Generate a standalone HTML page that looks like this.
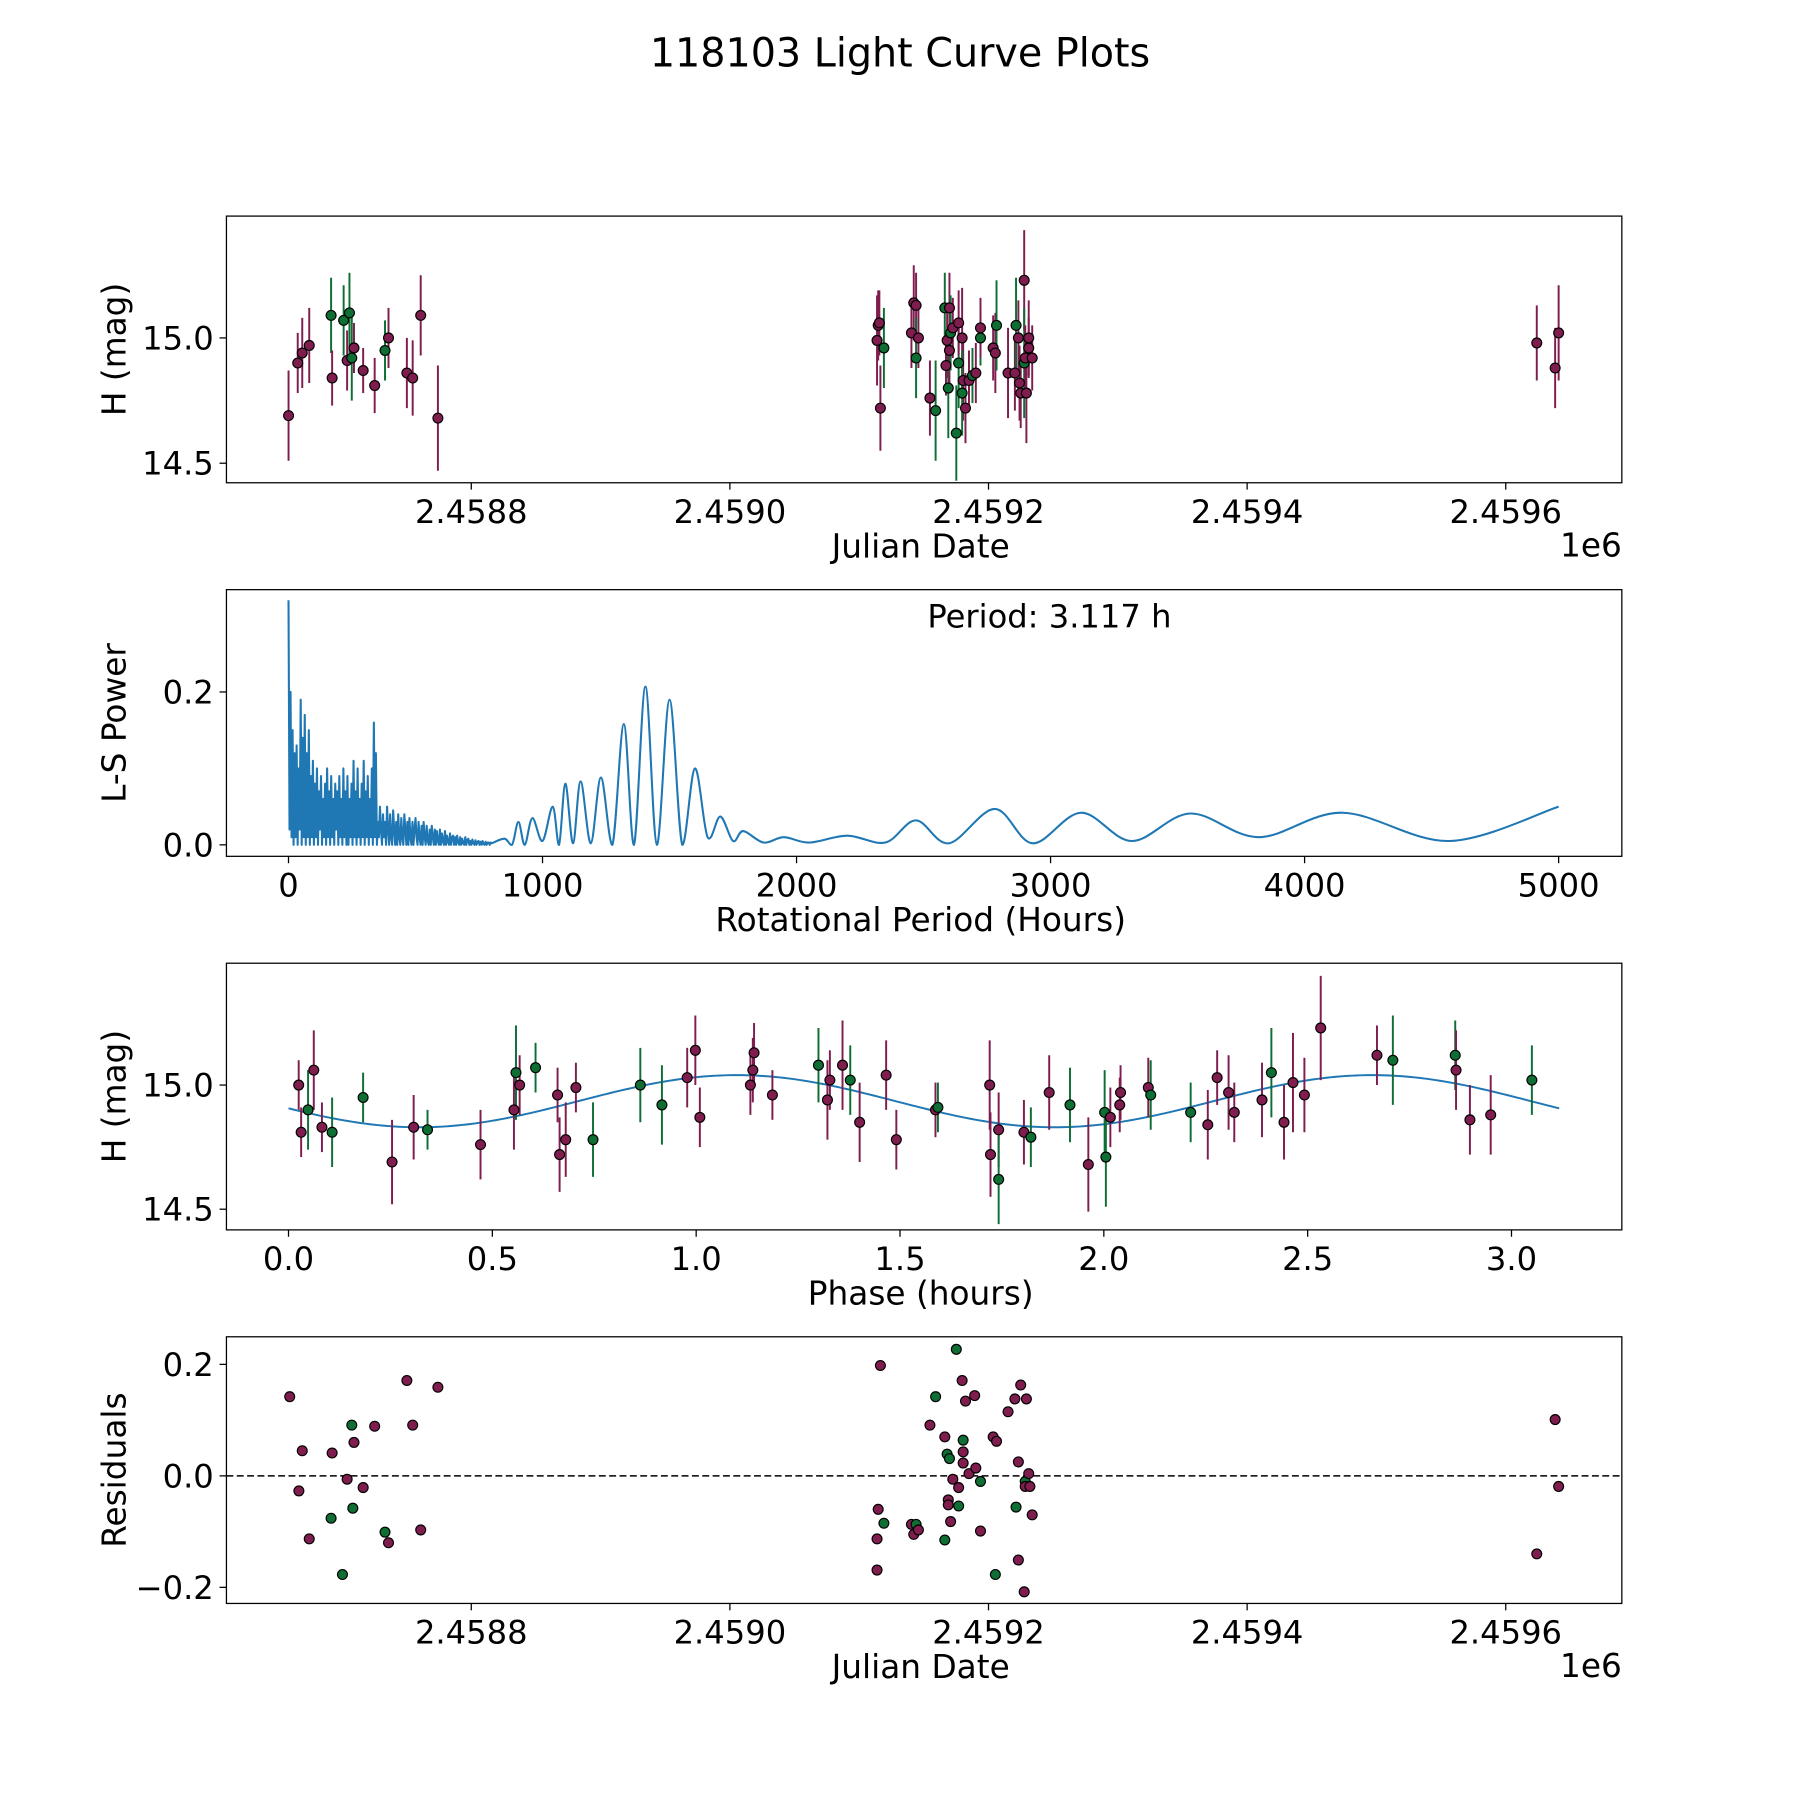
<!DOCTYPE html>
<html><head><meta charset="utf-8"><title>118103 Light Curve Plots</title>
<style>html,body{margin:0;padding:0;background:#fff}svg{display:block}text{font-family:"DejaVu Sans","Liberation Sans",sans-serif;fill:#000}</style>
</head><body>
<svg id="fig" xmlns="http://www.w3.org/2000/svg" width="1800" height="1800" viewBox="0 0 1566 1566">
<rect width="1566" height="1566" fill="#fff"/>
<text x="783" y="58" font-size="34.5" text-anchor="middle">118103 Light Curve Plots</text>
</svg>
<script>
// ---- Panel 1: light curve ----
const lcJD=[2458658.7,2458665.8,2458669.3,2458674.7,2458691.6,2458692.4,2458701.3,2458705.8,2458704.0,2458707.6,2458709.3,2458716.4,2458725.3,2458733.3,2458736.0,2458750.2,2458754.7,2458760.9,2458774.2,
2459113.8,2459114.7,2459115.6,2459116.4,2459119.1,2459140.4,2459142.2,2459144.0,2459144.0,2459145.8,2459154.7,2459159.1,2459166.2,2459167.1,2459168.0,2459168.9,2459169.8,2459169.8,2459170.7,2459172.4,2459175.1,2459176.9,2459176.9,2459179.6,2459180.4,2459179.6,2459182.2,2459184.9,2459187.6,2459190.2,2459193.8,2459193.8,2459203.6,2459205.3,2459206.2,2459215.1,2459220.4,2459221.3,2459223.1,2459224.0,2459224.9,2459227.6,2459227.6,2459228.4,2459229.3,2459231.1,2459231.1,2459233.8,
2459624.0,2459638.2,2459640.9];
const lcMag=[14.69,14.90,14.94,14.97,15.09,14.84,15.07,15.10,14.91,14.92,14.96,14.87,14.81,14.95,15.00,14.86,14.84,15.09,14.68,
14.99,15.05,15.06,14.72,14.96,15.02,15.14,15.13,14.92,15.00,14.76,14.71,15.12,14.89,14.99,14.80,15.12,14.95,15.02,15.04,14.62,14.90,15.06,15.00,14.83,14.78,14.72,14.83,14.85,14.86,15.00,15.04,14.96,14.94,15.05,14.86,14.86,15.05,15.00,14.82,14.78,15.23,14.90,14.92,14.78,15.00,14.96,14.92,
14.98,14.88,15.02];
const lcErr=[0.18,0.12,0.14,0.15,0.15,0.11,0.14,0.16,0.12,0.17,0.10,0.09,0.11,0.12,0.12,0.14,0.15,0.16,0.21,
0.18,0.14,0.13,0.17,0.16,0.14,0.15,0.13,0.16,0.12,0.15,0.2,0.14,0.12,0.15,0.2,0.14,0.16,0.15,0.12,0.19,0.18,0.13,0.2,0.16,0.17,0.14,0.12,0.11,0.12,0.11,0.12,0.13,0.16,0.18,0.18,0.15,0.19,0.15,0.15,0.14,0.2,0.22,0.13,0.2,0.15,0.12,0.13,
0.15,0.16,0.19];
const lcBand=[0,0,0,0,1,0,1,1,0,1,0,0,0,1,0,0,0,0,0,
0,0,0,0,1,0,0,0,1,0,0,1,1,0,0,1,0,0,1,0,1,1,0,0,0,1,0,0,1,0,1,0,0,0,1,0,0,1,0,0,0,0,1,0,0,0,0,0,
0,0,0];
// ---- Panel 2: periodogram ----
const lsStepHours=4;
const lsDensePower=[0.32,0.02,0.20,0.01,0.15,0.00,0.12,0.01,0.13,0.00,0.10,0.02,0.19,0.00,0.14,0.01,0.17,0.00,0.12,0.01,0.15,0.00,0.09,0.01,0.11,0.00,0.08,0.01,0.10,0.00,0.07,0.02,0.09,0.00,0.06,0.01,0.08,0.00,0.10,0.01,0.07,0.00,0.09,0.01,0.06,0.00,0.08,0.02,0.07,0.00,0.09,0.01,0.06,0.00,0.10,0.01,0.07,0.00,0.09,0.00,0.06,0.01,0.08,0.00,0.11,0.01,0.07,0.00,0.10,0.01,0.06,0.00,0.08,0.01,0.11,0.00,0.07,0.01,0.09,0.00,0.06,0.01,0.10,0.00,0.16,0.01,0.12,0.00,
0.03,0.01,0.05,0.02,0.00,0.04,0.01,0.03,0.00,0.05,0.02,0.00,0.04,0.01,0.00,0.045,0.02,0.00,0.03,0.00,0.04,0.01,0.00,0.035,0.01,0.00,0.04,0.02,0.00,0.03,0.00,0.035,0.01,0.00,0.03,0.00,0.02,0.035,0.01,0.00,0.03,0.01,0.00,0.025,0.00,0.03,0.01,0.00,0.025,0.005,0.00,0.02,0.00,0.025,0.01,0.00,0.02,0.00,0.018,0.005,0.00,0.02,0.00,0.015,0.005,0.00,0.018,0.00,0.012,0.004,0.00,0.015,0.00,0.01,0.012,0.00,0.01,0.00,0.012,0.003,0.00,0.01,0.00,0.008,0.002,0.00,0.01,0.00,0.006,0.008,0.00,0.005,0.00,0.007,0.002,0.00,0.006,0.00,0.004,0.005,0.00,0.004,0.00,0.005,0.001,0.00,0.004,0.00,0.003,0.003,0.00,0.003];
const lsSmoothPeriod=[800,850,880,905,930,960,1000,1040,1065,1090,1120,1150,1190,1230,1275,1320,1360,1405,1450,1500,1550,1600,1650,1700,1750,1790,1870,1950,2050,2200,2350,2470,2600,2780,2930,3120,3320,3550,3820,4150,4570,5000];
const lsSmoothPower=[0.002,0.008,0.0,0.03,0.0,0.035,0.005,0.05,0.0,0.08,0.002,0.083,0.002,0.088,0.0,0.158,0.0,0.207,0.0,0.19,0.0,0.1,0.01,0.037,0.005,0.018,0.003,0.01,0.003,0.012,0.003,0.032,0.002,0.047,0.002,0.042,0.005,0.041,0.01,0.042,0.005,0.05];
const periodText="Period: 3.117 h";
// ---- Panel 3: phased ----
const phPhase=[0.025,0.031,0.048,0.062,0.082,0.107,0.183,0.254,0.307,0.341,0.471,0.553,0.558,0.567,0.606,0.660,0.665,0.680,0.705,0.747,0.863,0.916,0.978,0.998,1.009,1.133,1.139,1.142,1.187,1.300,1.322,1.328,1.359,1.378,1.401,1.466,1.491,1.587,1.593,1.720,1.722,1.742,1.742,1.804,1.821,1.866,1.917,1.962,2.002,2.005,2.016,2.039,2.041,2.109,2.115,2.213,2.255,2.278,2.306,2.320,2.388,2.411,2.442,2.464,2.492,2.532,2.670,2.709,2.862,2.864,2.898,2.949,3.050];
const phMag=[15.00,14.81,14.90,15.06,14.83,14.81,14.95,14.69,14.83,14.82,14.76,14.90,15.05,15.00,15.07,14.96,14.72,14.78,14.99,14.78,15.00,14.92,15.03,15.14,14.87,15.00,15.06,15.13,14.96,15.08,14.94,15.02,15.08,15.02,14.85,15.04,14.78,14.90,14.91,15.00,14.72,14.82,14.62,14.81,14.79,14.97,14.92,14.68,14.89,14.71,14.87,14.92,14.97,14.99,14.96,14.89,14.84,15.03,14.97,14.89,14.94,15.05,14.85,15.01,14.96,15.23,15.12,15.10,15.12,15.06,14.86,14.88,15.02];
const phBand=[0,0,1,0,0,1,1,0,0,1,0,0,1,0,1,0,0,0,0,1,1,1,0,0,0,0,0,0,0,1,0,0,0,1,0,0,0,0,1,0,0,0,1,0,1,0,1,0,1,1,0,0,0,0,1,1,0,0,0,0,0,1,0,0,0,0,0,1,1,0,0,0,1];
const phErr=[0.1,0.1,0.16,0.16,0.1,0.14,0.1,0.17,0.13,0.08,0.14,0.16,0.19,0.12,0.1,0.11,0.15,0.15,0.1,0.15,0.15,0.16,0.12,0.14,0.12,0.12,0.13,0.12,0.1,0.15,0.16,0.12,0.18,0.14,0.16,0.14,0.12,0.11,0.1,0.18,0.17,0.15,0.18,0.13,0.12,0.15,0.15,0.19,0.17,0.2,0.12,0.11,0.11,0.12,0.14,0.12,0.14,0.11,0.15,0.12,0.15,0.18,0.15,0.2,0.15,0.21,0.12,0.18,0.14,0.16,0.14,0.16,0.14];
const modelMean=[14.935];
const modelAmp=[0.105];
const modelPeakPhase=[1.1];
const modelPeriodHours=[3.117];
// ---- Panel 4: residuals ----
const resJD=[2458659.6,2458666.7,2458669.3,2458674.7,2458691.6,2458692.4,2458700.4,2458704.0,2458707.6,2458708.4,2458709.3,2458716.4,2458725.3,2458733.3,2458736.0,2458750.2,2458754.7,2458760.9,2458774.2,
2459113.8,2459114.7,2459113.8,2459116.4,2459119.1,2459140.4,2459142.2,2459144.0,2459145.8,2459154.7,2459159.1,2459166.2,2459166.2,2459168.0,2459168.9,2459169.8,2459168.9,2459170.7,2459172.4,2459175.1,2459176.9,2459176.9,2459179.6,2459180.4,2459180.4,2459180.4,2459182.2,2459184.9,2459189.3,2459190.2,2459193.8,2459193.8,2459203.6,2459206.2,2459205.3,2459215.1,2459220.4,2459221.3,2459223.1,2459223.1,2459224.9,2459227.6,2459228.4,2459229.3,2459228.4,2459231.1,2459232.0,2459233.8,
2459624.0,2459638.2,2459640.9];
const resVal=[0.142,-0.027,0.045,-0.113,-0.076,0.041,-0.177,-0.006,0.091,-0.058,0.060,-0.021,0.089,-0.101,-0.120,0.171,0.091,-0.097,0.159,
-0.113,-0.060,-0.169,0.198,-0.085,-0.087,-0.105,-0.087,-0.097,0.091,0.142,0.070,-0.115,0.039,-0.043,0.031,-0.052,-0.082,-0.006,0.227,-0.054,-0.021,0.171,0.064,0.043,0.023,0.134,0.004,0.144,0.014,-0.010,-0.099,0.070,0.062,-0.177,0.115,0.138,-0.056,0.025,-0.151,0.163,-0.208,-0.010,0.138,-0.019,0.004,-0.019,-0.070,
-0.140,0.101,-0.019];
const resBand=[0,0,0,0,1,0,1,0,1,1,0,0,0,1,0,0,0,0,0,
0,0,0,0,1,0,0,1,0,0,1,0,1,1,0,1,0,0,0,1,1,0,0,1,0,0,0,0,0,0,1,0,0,0,1,0,0,1,0,0,0,0,1,0,0,0,0,0,
0,0,0];
const jdTicks=[2458800,2459000,2459200,2459400,2459600];
const jdTickLabels=["2.4588","2.4590","2.4592","2.4594","2.4596"];

const NS="http://www.w3.org/2000/svg";
const svg=document.getElementById('fig');
const PURPLE="#7f1d4f",GREEN="#0e6e33";
function mk(tag,attrs,parent){const e=document.createElementNS(NS,tag);for(const k in attrs)e.setAttribute(k,attrs[k]);(parent||svg).appendChild(e);return e;}
function lin(d0,d1,r0,r1){return v=>r0+(v-d0)/(d1-d0)*(r1-r0);}
const L=197,R=1411;
const tops=[188,513,838,1163],H=232;
const TICKFS=28,LABFS=28.5;

function axesFrame(i,name){
  const g=mk('g',{});
  
  
  const r=mk('rect',{x:L,y:tops[i],width:R-L,height:H,fill:'none',stroke:'#000','stroke-width':1.1},g);
  
  
  return g;
}
function xTicks(g,sx,vals,labels,i){
  const yb=tops[i]+H;
  vals.forEach((v,k)=>{const x=sx(v);
    mk('line',{x1:x,x2:x,y1:yb,y2:yb+6,stroke:'#000','stroke-width':1.1},g);
    const t=mk('text',{x:x,y:yb+35,'font-size':TICKFS,'text-anchor':'middle'},g);t.textContent=labels[k];
    
    });
}
function yTicks(g,sy,vals,labels){
  vals.forEach((v,k)=>{const y=sy(v);
    mk('line',{x1:L-6,x2:L,y1:y,y2:y,stroke:'#000','stroke-width':1.1},g);
    const t=mk('text',{x:L-11,y:y+10,'font-size':TICKFS,'text-anchor':'end'},g);t.textContent=labels[k];
    
    });
}
function labels(g,i,xl,yl,yx){
  const t=mk('text',{x:(L+R)/2-3,y:tops[i]+H+65,'font-size':LABFS,'text-anchor':'middle'},g);t.textContent=xl;
  
  
  const cy=tops[i]+H/2;
  const u=mk('text',{x:yx,y:cy,'font-size':LABFS,'text-anchor':'middle',transform:`rotate(-90 ${yx} ${cy})`},g);u.textContent=yl;
  
  
}
function dot(g,x,y,c){const d=mk('circle',{cx:x,cy:y,r:4.3,fill:c,stroke:'#000','stroke-width':1},g);return d;}

// Panel 1
const sxJD=lin(2458800,2459600,410,1310);
{
  const g=axesFrame(0,'light-curve-axes');
  const sy=lin(15.0,14.5,294,403);
  xTicks(g,sxJD,jdTicks,jdTickLabels,0);
  yTicks(g,sy,[15.0,14.5],["15.0","14.5"]);
  labels(g,0,"Julian Date","H (mag)",109);
  const o=mk('text',{x:R,y:tops[0]+H+64,'font-size':LABFS,'text-anchor':'end'},g);o.textContent="1e6";
  
  
  lcJD.forEach((j,k)=>{const x=sxJD(j),c=lcBand[k]?GREEN:PURPLE;
    const e=mk('line',{x1:x,x2:x,y1:sy(lcMag[k]-lcErr[k]),y2:sy(lcMag[k]+lcErr[k]),stroke:c,'stroke-width':1.7},g);
    
    });
  lcJD.forEach((j,k)=>{const d=dot(g,sxJD(j),sy(lcMag[k]),lcBand[k]?GREEN:PURPLE);
    
    });
}
// Panel 2
{
  const g=axesFrame(1,'periodogram-axes');
  const sx=lin(0,5000,251,1356),sy=lin(0,0.2,735,602);
  xTicks(g,sx,[0,1000,2000,3000,4000,5000],["0","1000","2000","3000","4000","5000"],1);
  yTicks(g,sy,[0.0,0.2],["0.0","0.2"]);
  labels(g,1,"Rotational Period (Hours)","L-S Power",109);
  let d='';
  lsDensePower.forEach((p,k)=>{d+=(k?'L':'M')+sx(k*lsStepHours).toFixed(2)+' '+sy(p).toFixed(2)+' ';});
  const pts=lsSmoothPeriod.map((p,k)=>[sx(p),sy(lsSmoothPower[k])]);
  d+='L'+pts[0][0].toFixed(2)+' '+pts[0][1].toFixed(2)+' ';
  for(let k=0;k<pts.length-1;k++){
    const p0=pts[Math.max(0,k-1)],p1=pts[k],p2=pts[k+1],p3=pts[Math.min(pts.length-1,k+2)];
    const c1=[p1[0]+(p2[0]-p0[0])/6,p1[1]+(p2[1]-p0[1])/6],c2=[p2[0]-(p3[0]-p1[0])/6,p2[1]-(p3[1]-p1[1])/6];
    c1[1]=Math.min(c1[1],sy(0)+1);c2[1]=Math.min(c2[1],sy(0)+1);
    d+=`C${c1[0].toFixed(2)} ${c1[1].toFixed(2)} ${c2[0].toFixed(2)} ${c2[1].toFixed(2)} ${p2[0].toFixed(2)} ${p2[1].toFixed(2)} `;
  }
  const line=mk('path',{d:d,fill:'none',stroke:'#1f77b4','stroke-width':1.8,'stroke-linejoin':'round'},g);
  
  
  const t=mk('text',{x:913,y:546,'font-size':28,'text-anchor':'middle'},g);t.textContent=periodText;
  
  
}
// Panel 3
{
  const g=axesFrame(2,'phased-curve-axes');
  const sx=lin(0,3.0,251,1315),sy=lin(15.0,14.5,944,1052);
  xTicks(g,sx,[0,0.5,1,1.5,2,2.5,3],["0.0","0.5","1.0","1.5","2.0","2.5","3.0"],2);
  yTicks(g,sy,[15.0,14.5],["15.0","14.5"]);
  labels(g,2,"Phase (hours)","H (mag)",109);
  let d='';
  for(let k=0;k<=300;k++){const p=modelPeriodHours[0]*k/300;
    const m=modelMean[0]+modelAmp[0]*Math.cos(2*Math.PI*(p-modelPeakPhase[0])/(modelPeriodHours[0]/2));
    d+=(k?'L':'M')+sx(p).toFixed(2)+' '+sy(m).toFixed(2)+' ';}
  const ml=mk('path',{d:d,fill:'none',stroke:'#1f77b4','stroke-width':1.7},g);
  
  
  phPhase.forEach((p,k)=>{const x=sx(p),c=phBand[k]?GREEN:PURPLE;
    const e=mk('line',{x1:x,x2:x,y1:sy(phMag[k]-phErr[k]),y2:sy(phMag[k]+phErr[k]),stroke:c,'stroke-width':1.7},g);
    
    });
  phPhase.forEach((p,k)=>{const d2=dot(g,sx(p),sy(phMag[k]),phBand[k]?GREEN:PURPLE);
    
    });
}
// Panel 4
{
  const g=axesFrame(3,'residuals-axes');
  const sy=lin(0,0.2,1284,1187);
  xTicks(g,sxJD,jdTicks,jdTickLabels,3);
  yTicks(g,sy,[0.2,0.0,-0.2],["0.2","0.0","\u22120.2"]);
  labels(g,3,"Julian Date","Residuals",109);
  const o=mk('text',{x:R,y:tops[3]+H+64,'font-size':LABFS,'text-anchor':'end'},g);o.textContent="1e6";
  
  
  const z=mk('line',{x1:L,x2:R,y1:sy(0),y2:sy(0),stroke:'#000','stroke-width':1.3,'stroke-dasharray':'6 3'},g);
  
  
  resJD.forEach((j,k)=>{const d=dot(g,sxJD(j),sy(resVal[k]),resBand[k]?GREEN:PURPLE);
    
    });
}
</script>
</body></html>
